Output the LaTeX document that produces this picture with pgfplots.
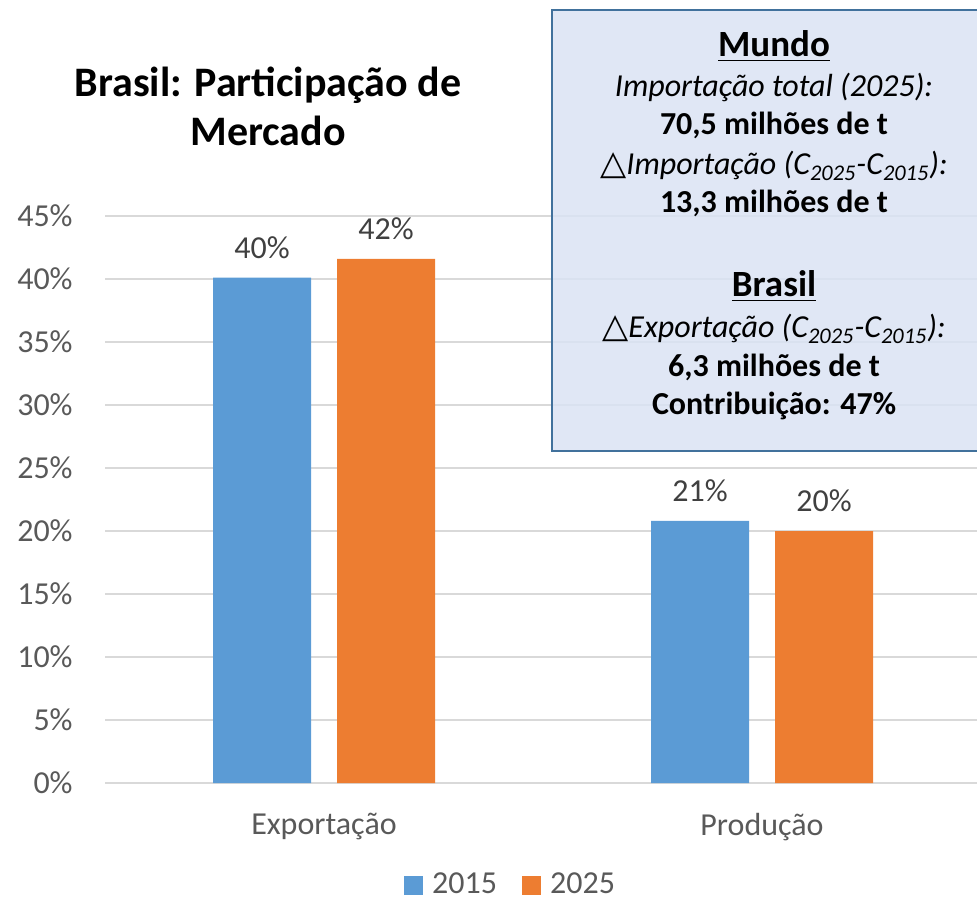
\documentclass[border=0pt]{standalone}
\usepackage{pgfplots}
\pgfplotsset{compat=1.18}
\usepackage{fontspec}
\setmainfont{Carlito}
\newfontfamily\dejavu{DejaVu Sans}
\definecolor{cblue}{HTML}{5B9BD5}
\definecolor{corange}{HTML}{ED7D31}
\definecolor{tgray}{HTML}{595959}
\definecolor{lgray}{HTML}{404040}
\definecolor{gridc}{HTML}{D9D9D9}
\definecolor{boxfill}{HTML}{DAE3F3}
\definecolor{boxline}{HTML}{41719C}
\newcommand{\tri}{{\dejavu\fontsize{17}{19}\selectfont\upshape △}}
\begin{document}
\begin{tikzpicture}
\useasboundingbox (0,0) rectangle (488.5pt,449.5pt);
\begin{axis}[
  at={(52.5pt,58pt)}, anchor=south west,
  scale only axis, width=438pt, height=283.5pt,
  xmin=-0.5, xmax=1.5, ymin=0, ymax=45,
  ytick={0,5,...,45},
  xtick={0,1}, xticklabels={Exportação,Produção},
  axis line style={draw=none},
  major tick length=0pt,
  ymajorgrids, grid style={gridc, line width=0.8pt},
  /pgf/number format/assume math mode=true,
  yticklabel={\pgfmathprintnumber{\tick}\%},
  yticklabel style={font=\fontsize{16}{19}\selectfont, text=tgray, inner sep=0pt, anchor=east, xshift=-16pt},
  xticklabel style={font=\fontsize{16}{19}\selectfont, text=tgray, inner sep=0pt, anchor=north, yshift=-15pt},
  ybar, bar width=49pt,
  nodes near coords={\pgfmathprintnumber[fixed,precision=0]{\pgfplotspointmeta}\%},
  nodes near coords style={font=\fontsize{16}{19}\selectfont, text=lgray, inner sep=0pt, anchor=south, yshift=9.5pt},
  legend image code/.code={\fill[#1] (0pt,-4.75pt) rectangle (9.5pt,4.75pt);},
  legend style={at={(0.467,-0.1799)}, anchor=center, draw=none, fill=none,
    legend columns=2, font=\fontsize{16}{19}\selectfont, text=tgray, inner sep=0pt,
    nodes={inner xsep=4.5pt, inner ysep=0pt},
    /tikz/every even column/.append style={column sep=8pt}},
]
\addplot[fill=cblue, draw=none, bar shift=-31pt] coordinates {(0,40.1) (1,20.8)};
\addplot[fill=corange, draw=none, bar shift=31pt] coordinates {(0,41.6) (1,20.0)};
\legend{2015,2025}
\end{axis}
% title
\node[font=\bfseries\fontsize{21}{24.5}\selectfont, anchor=base] at (134pt,401pt) {Brasil: Participação de};
\node[font=\bfseries\fontsize{21}{24.5}\selectfont, anchor=base] at (134pt,376.5pt) {Mercado};
% box
\fill[boxfill, fill opacity=0.85] (276pt,224pt) rectangle (490pt,444.5pt);
\draw[boxline, line width=1pt] (276pt,224pt) rectangle (490pt,444.5pt);
\begin{scope}[every node/.style={anchor=base, inner sep=0pt, font=\fontsize{16}{19}\selectfont}]
\node[font=\bfseries\fontsize{18.5}{22}\selectfont] at (387pt,421pt) {\underline{Mundo}};
\node at (387pt,401pt) {\itshape Importação total (2025):};
\node at (387pt,382pt) {\bfseries 70,5 milhões de t};
\node at (387pt,362pt) {\tri\itshape Importação (C\textsubscript{2025}-C\textsubscript{2015}):};
\node at (387pt,343pt) {\bfseries 13,3 milhões de t};
\node[font=\bfseries\fontsize{18.5}{22}\selectfont] at (387pt,301pt) {\underline{Brasil}};
\node at (387pt,280.5pt) {\tri\itshape Exportação (C\textsubscript{2025}-C\textsubscript{2015}):};
\node at (387pt,261pt) {\bfseries 6,3 milhões de t};
\node at (387pt,242pt) {\bfseries Contribuição: 47\%};
\end{scope}
\end{tikzpicture}
\end{document}
